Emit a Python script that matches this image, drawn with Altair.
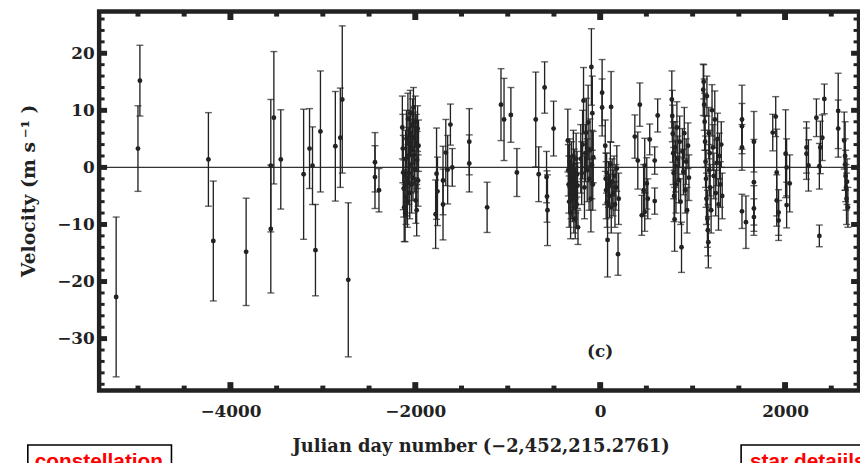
import altair as alt
import pandas as pd

# ---------------- data ----------------
jd = [
    -5236, -5000, -4979, -4238, -4185, -3830, -3563, -3563, -3530, -3455,
    -3208, -3144, -3112, -3080, -3026, -2865, -2811, -2790, -2725,
    -2436, -2436, -2393,
    -2140, -2135, -2130, -2125, -2120, -2110, -2105, -2100, -2095, -2090,
    -2085, -2080, -2075, -2070, -2065, -2060, -2055, -2050, -2045, -2040,
    -2035, -2030, -2025, -2020, -2015, -2010, -2005, -2000, -1995, -1990,
    -1985, -1980, -1975, -1970, -1965,
    -1780, -1770, -1760, -1700, -1700, -1670, -1650, -1620, -1600, -1416,
    -1416, -1223,
    -1073, -1040, -966, -901, -697, -665, -601, -504, -580, -575, -570,
    -350, -345, -340, -335, -330, -325, -320, -315, -310, -305, -300, -295,
    -290, -285, -280, -275, -270, -265, -260, -255, -250, -245, -240,
    -210, -200, -190, -180, -170, -160, -150, -140, -130, -120, -110, -100,
    -95, -90, -85, -80, -75,
    21, 21, 118,
    55, 60, 65, 70, 75, 80, 90, 100, 110, 120, 130, 140, 150, 160, 170, 180,
    193, 200,
    375, 429, 407, 482, 504, 482, 450, 536, 622, 590, 590, 470, 515,
    775, 780, 785, 790, 795, 800, 805, 810, 815, 820, 830, 840, 850, 860,
    870, 880, 890, 900, 910, 920, 930, 940, 950, 960,
    1115, 1120, 1125, 1130, 1135, 1140, 1145, 1150, 1155, 1160, 1165, 1170,
    1175, 1180, 1185, 1190, 1200, 1210, 1220, 1230, 1240, 1250, 1260, 1270,
    1280, 1290, 1300, 1310, 1320,
    1534, 1534, 1534, 1534, 1577, 1663, 1663, 1663, 1663,
    1867, 1899, 1910, 1930, 1930, 1910, 2006, 2017, 2050, 2017,
    2232, 2232, 2253, 2339, 2382, 2403, 2371, 2425, 2371, 2575, 2575,
    2640, 2650, 2655, 2660, 2665, 2670, 2680, 2650,
]
vel = [
    -22.7, 3.3, 15.2, 1.4, -12.9, -14.8, 0.3, -10.8, 8.7, 1.4,
    -1.2, 3.3, 0.3, -14.5, 6.3, 3.7, 5.2, 11.9, -19.7,
    0.9, -1.7, -4.0,
    7.0, 3.3, -0.9, -3.7, -7.0, -8.0, 1.5, -5.2, 5.0, -2.5,
    -6.0, 8.5, 2.0, -1.0, 4.0, -4.5, 9.5, 6.0, 0.5, -3.0,
    3.0, 7.5, -1.8, 10.5, 5.2, 2.2, -0.3, 8.0, -5.8, 4.3,
    -7.5, 1.3, 6.8, -2.3, 3.8,
    -8.2, -1.1, -4.2, -6.5, -2.3, 2.6, -0.4, 7.5, 0.0, 4.5,
    0.7, -7.0,
    11.0, 8.4, 9.2, -0.9, 8.4, -1.2, 14.0, 6.8, -1.7, -5.1, -7.5,
    4.7, -0.5, -3.0, -6.0, 1.0, -2.0, -8.0, -4.5, 0.0, -1.5, -5.5, -3.5,
    2.0, -7.0, -0.8, -2.8, -9.0, -4.0, 1.5, -6.5, -1.2, -3.2, -10.5,
    1.5, -1.0, 4.0, 11.7, -3.5, 2.5, 6.1, -0.5, 7.9, -2.0, 3.0, -5.5,
    17.6, 0.5, 9.5, -3.0, 1.8,
    13.1, 10.5, 10.6,
    3.8, -2.0, -4.0, -1.0, -6.0, -12.7, -3.0, -5.0, 0.5, -7.0, -2.5, -4.5,
    -1.5, -6.5, -3.5, -0.2, -15.2, -5.5,
    5.4, 11.0, 1.2, 0.3, -2.8, -7.8, -8.4, 4.9, 9.1, 1.2, -5.9, -4.0, -5.5,
    11.9, 9.0, 5.9, 2.5, -1.0, -5.0, -9.1, 3.5, 0.2, -3.0, 7.0, 1.5, -2.2, 4.5,
    -6.0, -14.0, 2.8, -0.8, 6.0, -4.0, 1.0, -7.5, 3.8, -1.8,
    13.6, 15.0, 11.0, 8.0, 4.5, 1.0, -2.0, -5.5, 12.5, -9.0, -11.0, -13.1,
    6.0, -0.5, 2.5, -3.5, -7.5, 10.0, 3.5, -1.5, 8.4, -4.5, 0.8, 5.0,
    -6.5, 2.0, -3.0, 4.0, -5.0,
    8.4, 7.2, 3.5, -7.7, -9.6, 4.5, -2.6, -7.2, -8.7,
    6.1, 8.9, -0.9, -7.9, -9.3, -5.8, 2.4, 0.0, -2.8, -6.6,
    3.5, 2.4, 0.35, 8.7, 3.5, 5.2, 0.2, 12.0, -12.0, 9.9, 6.8,
    4.7, 0.5, -1.5, -3.5, -5.5, -2.5, -7.0, 2.0,
]
err = [
    14.0, 7.5, 6.2, 8.2, 10.5, 9.4, 11.6, 11.2, 11.6, 8.7,
    11.4, 7.0, 6.8, 8.0, 10.6, 9.6, 8.7, 12.9, 13.5,
    5.2, 5.5, 3.8,
    5.5, 6.0, 6.5, 5.0, 6.0, 5.0, 5.0, 4.8, 5.0, 6.0,
    4.5, 4.5, 5.0, 5.5, 5.0, 4.5, 4.0, 4.0, 5.0, 5.0,
    5.5, 4.5, 4.0, 3.5, 4.5, 5.0, 4.0, 4.5, 4.0, 5.0,
    4.5, 5.0, 4.0, 4.5, 4.5,
    6.0, 8.0, 6.0, 6.2, 6.0, 5.8, 6.0, 3.6, 3.3, 5.8,
    5.0, 4.4,
    6.3, 7.2, 4.8, 4.2, 8.3, 4.8, 4.5, 4.8, 4.5, 4.5, 6.2,
    5.5, 4.5, 5.0, 4.5, 4.0, 4.0, 4.5, 4.5, 4.5, 3.5, 4.0, 4.0,
    4.5, 4.5, 4.0, 3.5, 3.5, 4.0, 4.5, 4.0, 4.0, 4.0, 3.0,
    6.0, 5.5, 6.0, 5.8, 5.5, 5.0, 6.0, 5.5, 6.5, 5.5, 5.5, 5.8,
    6.7, 6.0, 6.5, 4.5, 4.5,
    5.8, 5.0, 6.2,
    4.5, 4.5, 5.0, 3.5, 4.5, 6.5, 4.0, 3.8, 4.0, 4.5, 4.0, 4.0,
    3.5, 4.0, 4.0, 4.0, 3.7, 4.5,
    3.8, 3.8, 5.0, 4.8, 4.5, 3.4, 3.5, 2.7, 2.9, 2.4, 2.3, 4.5, 3.5,
    5.0, 4.5, 5.0, 5.5, 4.5, 4.5, 5.6, 4.5, 4.5, 5.0, 4.5, 4.0, 4.0, 4.5,
    4.0, 4.4, 4.0, 4.0, 4.5, 4.0, 4.0, 4.0, 4.0, 4.0,
    4.5, 3.0, 4.5, 5.0, 4.5, 4.5, 5.0, 4.5, 3.5, 5.0, 4.5, 4.5,
    4.5, 4.5, 4.0, 4.0, 4.0, 4.5, 4.0, 4.0, 5.0, 4.0, 4.0, 4.5,
    4.5, 4.0, 4.0, 4.0, 4.0,
    6.0, 4.0, 4.0, 3.0, 4.6, 5.3, 7.5, 4.0, 3.2,
    3.2, 3.5, 7.6, 4.0, 3.5, 4.5, 7.7, 5.0, 5.0, 4.0,
    4.5, 4.5, 4.5, 3.3, 4.6, 4.0, 4.0, 2.6, 1.9, 6.6, 5.0,
    5.0, 4.5, 4.5, 4.0, 4.5, 4.0, 3.5, 6.0,
]

x_major = [-4000, -2000, 0, 2000]
x_minor = [v for v in range(-5000, 2501, 500) if v not in x_major]
y_major = [-30, -20, -10, 0, 10, 20]
y_minor = [v for v in range(-38, 27, 2) if v % 10 != 0]
zero_line = [0]
panel_label = ["(c)"]
panel_label_x = [0]
panel_label_y = [-32.4]

x_title = "Julian day number  (\u22122,452,215.2761)"
y_title = "Velocity  (m s\u2009\u207b\u00b9 )"

# ---------------- layout ----------------
W, H = 767, 382.5
XDOM = [-5420, 2800]
YDOM = [-39.1, 27.3]
INK = "#222222"
SERIF = "DejaVu Serif"

xs = alt.Scale(domain=XDOM, nice=False, zero=False)
ys = alt.Scale(domain=YDOM, nice=False, zero=False)

x_axis = alt.Axis(values=x_major, format="d", title=x_title,
                  titleX=385, titleY=62, titleAlign="center",
                  titleBaseline="alphabetic", labelPadding=13)
y_axis = alt.Axis(values=y_major, format="d", title=y_title,
                  titleX=-65, titleY=180.5, titleAlign="center",
                  titleBaseline="alphabetic", titleAngle=270, labelPadding=5,
                  titleFontSize=19)


def X(field):
    return alt.X(field, scale=xs, axis=x_axis)


def Y(field):
    return alt.Y(field, scale=ys, axis=y_axis)


n = min(len(jd), len(vel), len(err))
df = pd.DataFrame({"jd": jd[:n], "vel": vel[:n], "err": err[:n]})
base = alt.Chart(df).transform_calculate(
    lo="datum.vel - datum.err", hi="datum.vel + datum.err")

bars = base.mark_rule(color=INK, strokeWidth=1.35).encode(
    x=X("jd:Q"), y=Y("lo:Q"), y2="hi:Q")
cap_lo = base.mark_tick(color=INK, orient="horizontal", size=7, thickness=1.4).encode(
    x=X("jd:Q"), y=Y("lo:Q"))
cap_hi = base.mark_tick(color=INK, orient="horizontal", size=7, thickness=1.4).encode(
    x=X("jd:Q"), y=Y("hi:Q"))
pts = base.mark_circle(color=INK, size=24, opacity=1).encode(
    x=X("jd:Q"), y=Y("vel:Q"))

zero = alt.Chart(pd.DataFrame({"z": zero_line})).mark_rule(
    color="#333333", strokeWidth=1.2).encode(y=Y("z:Q"))


def xticks(vals, length, width):
    d = alt.Chart(pd.DataFrame({"v": vals}))
    b = d.mark_rule(color=INK, strokeWidth=width).encode(
        x=X("v:Q"), y=alt.value(H), y2=alt.value(H - length))
    t = d.mark_rule(color=INK, strokeWidth=width).encode(
        x=X("v:Q"), y=alt.value(0), y2=alt.value(length))
    return [b, t]


def yticks(vals, length, width):
    d = alt.Chart(pd.DataFrame({"v": vals}))
    l = d.mark_rule(color=INK, strokeWidth=width).encode(
        y=Y("v:Q"), x=alt.value(0), x2=alt.value(length))
    r = d.mark_rule(color=INK, strokeWidth=width).encode(
        y=Y("v:Q"), x=alt.value(W), x2=alt.value(W - length))
    return [l, r]


label_c = alt.Chart(pd.DataFrame({"t": panel_label, "x": panel_label_x,
                                  "y": panel_label_y})).mark_text(
    font=SERIF, fontWeight="bold", fontSize=17, color=INK,
    align="center", baseline="middle").encode(
    x=X("x:Q"), y=Y("y:Q"), text="t:N")

one = alt.Chart(pd.DataFrame({"a": [0]}))
box1 = one.mark_rect(fill="white", stroke="black", strokeWidth=1.6).encode(
    x=alt.value(-72), x2=alt.value(73), y=alt.value(437.5), y2=alt.value(480))
txt1 = one.mark_text(font="Liberation Sans", fontWeight="bold", fontSize=21,
                     color="#ff0000", align="left", baseline="top").encode(
    x=alt.value(-65), y=alt.value(444), text=alt.value("constellation"))
box2 = one.mark_rect(fill="white", stroke="black", strokeWidth=1.6).encode(
    x=alt.value(648), x2=alt.value(820), y=alt.value(437.5), y2=alt.value(480))
txt2 = one.mark_text(font="Liberation Sans", fontWeight="bold", fontSize=21,
                     color="#ff0000", align="left", baseline="top").encode(
    x=alt.value(657), y=alt.value(444), text=alt.value("star detaiils"))

layers = [zero, bars, cap_lo, cap_hi, pts]
layers += xticks(x_minor, 5, 5) + xticks(x_major, 8.5, 6)
layers += yticks(y_minor, 5.5, 3) + yticks(y_major, 8, 5)
layers += [label_c, box1, txt1, box2, txt2]

chart = alt.layer(*layers).properties(
    width=W, height=H,
    autosize=alt.AutoSizeParams(type="none"),
    padding={"left": 92, "top": 1.5, "right": 1, "bottom": 71},
    background="white",
).configure_view(
    stroke=INK, strokeWidth=4.5,
).configure_axis(
    domain=False, ticks=False, tickSize=0, grid=False,
    labelFont=SERIF, labelFontWeight="bold", labelFontSize=17, labelColor=INK,
    titleFont=SERIF, titleFontWeight="bold", titleFontSize=18, titleColor=INK,
)

chart.save("out.html", embed_options={"renderer": "svg", "actions": False})
